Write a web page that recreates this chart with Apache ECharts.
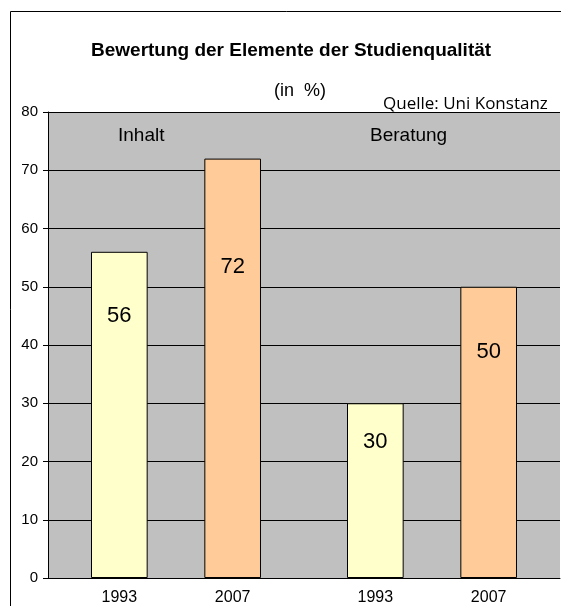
<!DOCTYPE html>
<html>
<head>
<meta charset="utf-8">
<script src="https://cdn.jsdelivr.net/npm/echarts@6/dist/echarts.min.js"></script>
<style>
  html, body { margin: 0; padding: 0; background: #fff; }
  #main { width: 561px; height: 606px; }
</style>
</head>
<body>
<div id="main"></div>
<script>
// Daten
const categories = ['Inhalt', 'Beratung'];
const years = ['1993', '2007'];
const values1993 = [56, 30];
const values2007 = [72, 50];
const yTicks = [0, 10, 20, 30, 40, 50, 60, 70, 80];

// Layout der Balken (wie im Original)
const barGap = 1;          // 100%
const catGap = 0.336;      // 33.6%
// Abstand der Wertbeschriftung vom oberen Balkenrand
const labelDist1993 = [53, 28];
const labelDist2007 = [97, 54];

const chart = echarts.init(document.getElementById('main'));

// Mittelpunkte der Balken in Kategorie-Einheiten, fuer die Jahresbeschriftung
const w = (1 - catGap) / (years.length + (years.length - 1) * barGap);
const off = (w + barGap * w) / 2;
const yearPos = [], yearLbl = [];
categories.forEach((c, i) => {
  yearPos.push(i + 0.5 - off, i + 0.5 + off);
  yearLbl.push(years[0], years[1]);
});

const fontMain = '"Liberation Sans", Arial, sans-serif';

function mkSeries(name, vals, dist, color) {
  return {
    name: name,
    type: 'bar',
    xAxisIndex: 0,
    barGap: (barGap * 100) + '%',
    barCategoryGap: (catGap * 100) + '%',
    itemStyle: { color: color, borderColor: '#000', borderWidth: 1 },
    label: {
      show: true,
      position: 'insideTop',
      color: '#000',
      fontSize: 22,
      fontFamily: fontMain
    },
    data: vals.map((v, i) => ({ value: v, label: { distance: dist[i] } }))
  };
}

const option = {
  animation: false,
  backgroundColor: '#fff',
  title: [
    {
      text: 'Bewertung der Elemente der Studienqualität',
      left: 86, top: 36,
      textStyle: { fontSize: 19, fontWeight: 'bold', color: '#000', fontFamily: fontMain }
    },
    {
      text: '(in  %)',
      left: 269, top: 77,
      textStyle: { fontSize: 18, fontWeight: 'normal', color: '#000', fontFamily: fontMain }
    },
    {
      text: 'Quelle: Uni Konstanz',
      left: 378, top: 91,
      textStyle: { fontSize: 17, fontWeight: 'normal', color: '#000', fontFamily: '"Open Sans", sans-serif' }
    }
  ],
  graphic: [
    { type: 'rect', shape: { x: 10.5, y: 11.5, width: 700, height: 700 }, style: { fill: null, stroke: '#000', lineWidth: 1 }, z: -1 },
    { type: 'text', left: 118, top: 126, style: { text: categories[0], fill: '#000', font: '19px ' + fontMain } },
    { type: 'text', left: 370, top: 126, style: { text: categories[1], fill: '#000', font: '19px ' + fontMain } }
  ],
  grid: {
    left: 48, right: 1, top: 112, bottom: 28,
    show: true, backgroundColor: '#c0c0c0', borderWidth: 0
  },
  xAxis: [
    {
      type: 'category',
      data: categories,
      axisLine: { lineStyle: { color: '#000' } },
      axisTick: { show: false },
      axisLabel: { show: false }
    },
    {
      type: 'value',
      min: 0, max: categories.length,
      position: 'bottom',
      axisLine: { show: false },
      axisTick: { show: false },
      splitLine: { show: false },
      axisLabel: {
        customValues: yearPos,
        margin: 12,
        fontSize: 16,
        color: '#000',
        fontFamily: fontMain,
        formatter: v => {
          const k = yearPos.findIndex(p => Math.abs(p - v) < 1e-6);
          return k >= 0 ? yearLbl[k] : '';
        }
      }
    }
  ],
  yAxis: {
    type: 'value',
    min: yTicks[0], max: yTicks[yTicks.length - 1], interval: 10,
    axisLine: { show: true, lineStyle: { color: '#000' } },
    axisTick: { show: true, length: 5, lineStyle: { color: '#000' } },
    axisLabel: { color: '#000', fontSize: 15, margin: 10, fontFamily: fontMain },
    splitLine: { lineStyle: { color: '#000', width: 1 } }
  },
  series: [
    mkSeries(years[0], values1993, labelDist1993, '#ffffcc'),
    mkSeries(years[1], values2007, labelDist2007, '#ffcc99')
  ]
};

chart.setOption(option);
</script>
</body>
</html>
